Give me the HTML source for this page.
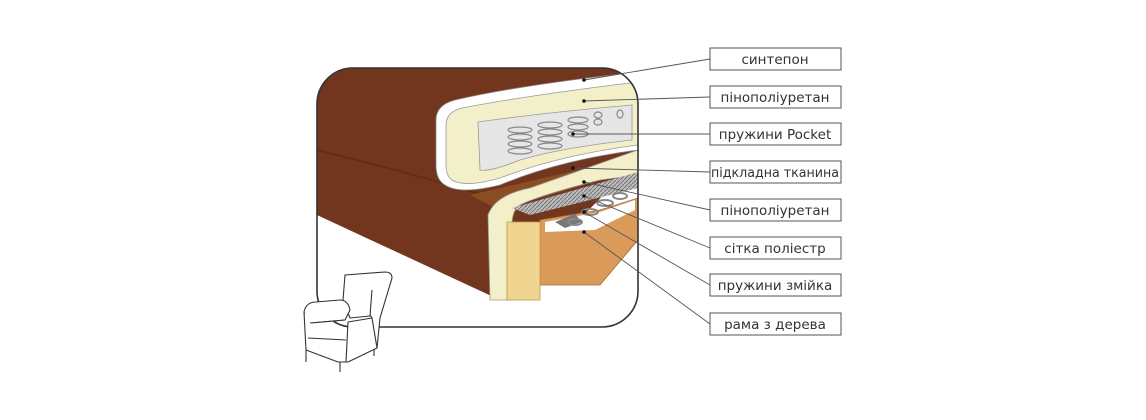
<!DOCTYPE html>
<html><head><meta charset="utf-8"><style>
body{margin:0;background:#fff;width:1146px;height:420px;overflow:hidden;font-family:"Liberation Sans","DejaVu Sans",sans-serif}
svg{position:absolute;left:0;top:0}
</style></head><body>
<svg width="1146" height="420" viewBox="0 0 1146 420">
<defs>
<clipPath id="fr"><rect x="317" y="68" width="321" height="259" rx="36"/></clipPath>
<pattern id="mesh" width="4" height="4" patternUnits="userSpaceOnUse"><rect width="4" height="4" fill="#bbb"/><path d="M0 4L4 0" stroke="#777" stroke-width="1"/></pattern>
</defs>
<g clip-path="url(#fr)">
<rect x="317" y="68" width="321" height="259" fill="#fff"/>
<path d="M317 68H638V160L500 300L317 215Z" fill="#72361e"/>
<path d="M317 150 Q400 170 500 200" stroke="#5a2813" stroke-width="2" fill="none" opacity=".6"/>
<path d="M470 195 L600 165 L600 180 L500 210Z" fill="#8a4e22"/>
<path d="M455 100 Q520 85 638 72 V150 Q560 160 500 185 Q460 195 445 185 Q436 180 436 165 V120 Q436 105 455 100Z" fill="#fff" stroke="#888" stroke-width="0.8"/>
<path d="M462 108 Q530 95 638 82 V145 Q560 155 500 178 Q465 188 452 180 Q446 176 446 165 V125 Q446 112 462 108Z" fill="#f3efc8" stroke="#999" stroke-width="0.8"/>
<path d="M478 122 Q550 112 632 105 V140 Q560 148 520 160 Q490 172 480 170Z" fill="#e6e6e6" stroke="#999" stroke-width="0.8"/>
<g fill="none" stroke="#888" stroke-width="1.2">
<ellipse cx="520" cy="130" rx="12" ry="3"/><ellipse cx="520" cy="137" rx="12" ry="3"/><ellipse cx="520" cy="144" rx="12" ry="3"/><ellipse cx="520" cy="151" rx="12" ry="3"/>
<ellipse cx="550" cy="125" rx="12" ry="3"/><ellipse cx="550" cy="132" rx="12" ry="3"/><ellipse cx="550" cy="139" rx="12" ry="3"/><ellipse cx="550" cy="146" rx="12" ry="3"/>
<ellipse cx="578" cy="120" rx="10" ry="3"/><ellipse cx="578" cy="127" rx="10" ry="3"/><ellipse cx="578" cy="134" rx="10" ry="3"/>
<ellipse cx="598" cy="115" rx="4" ry="3"/><ellipse cx="598" cy="122" rx="4" ry="3"/><ellipse cx="620" cy="114" rx="3" ry="4"/>
</g>
<path d="M488 215 Q495 195 530 188 L638 150 V175 L600 180 Q540 195 520 205 Q512 210 512 225 V300 H490Z" fill="#f3efc8" stroke="#999" stroke-width="0.8"/>
<path d="M512 208 L638 172 V188 L530 215Z" fill="url(#mesh)"/>
<path d="M540 220 L600 210 L638 198 V240 L600 285 H540Z" fill="#d99a5a" stroke="#a86a34" stroke-width="0.8"/>
<path d="M545 222 L600 212 L635 200 L635 210 L595 230 L545 232Z" fill="#fff"/>
<path d="M555 222 L575 214 L582 222 L565 228Z" fill="#777"/>
<g fill="none" stroke="#888" stroke-width="2"><ellipse cx="590" cy="212" rx="8" ry="3"/><ellipse cx="605" cy="203" rx="8" ry="3"/><ellipse cx="620" cy="196" rx="7" ry="3"/><ellipse cx="575" cy="222" rx="7" ry="3"/></g>
<rect x="507" y="222" width="33" height="78" fill="#f0d590" stroke="#b99a50" stroke-width="0.8"/>
</g>
<rect x="317" y="68" width="321" height="259" rx="36" fill="none" stroke="#333" stroke-width="1.6"/>
<g fill="#fff" stroke="#333" stroke-width="1.1" stroke-linejoin="round">
<path d="M345 275 L385 272 Q392 272 392 278 L380 318 L377 348 L370 350 L372 318 Z"/>
<path d="M345 275 L343 300 L350 318 L370 316 L372 290"/>
<path d="M304 312 Q306 302 316 302 L340 300 Q348 300 350 310 L345 320 L310 323 Z"/>
<path d="M304 312 L306 350 L338 362 L348 362 L377 348 L372 318 L348 322 L346 362"/>
<path d="M310 323 L345 320"/>
<path d="M308 338 L346 340"/>
<path d="M306 350 V362 M340 362 V372 M374 349 V356"/>
</g>
<g stroke="#555" stroke-width="0.9" fill="none">
<path d="M584 80 L710 59"/><path d="M584 101 L710 97"/><path d="M573 134 L710 134"/><path d="M573 168 L710 172"/>
<path d="M584 182 L710 210"/><path d="M584 196 L710 248"/><path d="M584 212 L710 285"/><path d="M584 232 L710 324"/>
</g>
<g fill="#111"><circle cx="584" cy="80" r="1.8"/><circle cx="584" cy="101" r="1.8"/><circle cx="573" cy="134" r="1.8"/><circle cx="573" cy="168" r="1.8"/><circle cx="584" cy="182" r="1.8"/><circle cx="584" cy="196" r="1.8"/><circle cx="584" cy="212" r="1.8"/><circle cx="584" cy="232" r="1.8"/></g>
<g fill="#fff" stroke="#555" stroke-width="1">
<rect x="710" y="48" width="131" height="22"/><rect x="710" y="86" width="131" height="22"/><rect x="710" y="123" width="131" height="22"/><rect x="710" y="161" width="131" height="22"/>
<rect x="710" y="199" width="131" height="22"/><rect x="710" y="237" width="131" height="22"/><rect x="710" y="274" width="131" height="22"/><rect x="710" y="313" width="131" height="22"/>
</g>
<g font-size="13.5" fill="#333" text-anchor="middle" font-family="'DejaVu Sans','Liberation Sans',sans-serif">
<text x="775" y="64">синтепон</text><text x="775" y="102">пінополіуретан</text><text x="775" y="139">пружини Pocket</text>
<text x="775" y="177" textLength="128" lengthAdjust="spacingAndGlyphs">підкладна тканина</text>
<text x="775" y="215">пінополіуретан</text><text x="775" y="253">сітка поліестр</text><text x="775" y="290">пружини змійка</text><text x="775" y="329">рама з дерева</text>
</g>
</svg>
</body></html>
